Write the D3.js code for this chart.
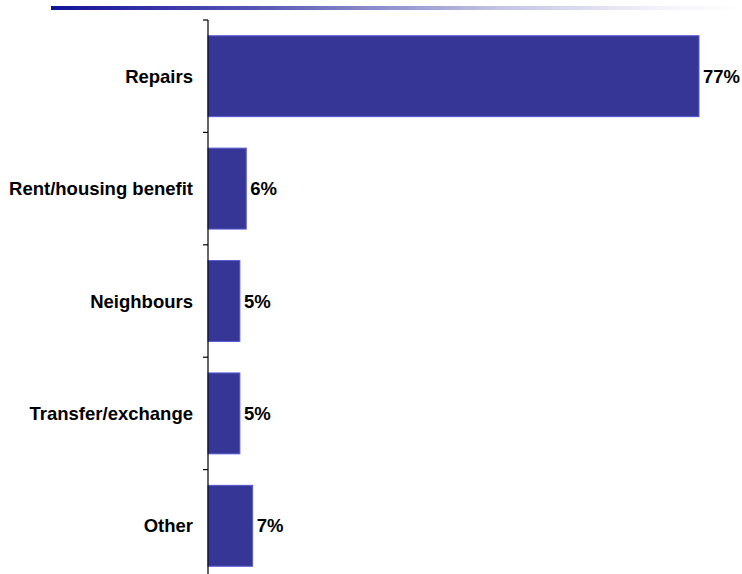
<!DOCTYPE html>
<html>
<head>
<meta charset="utf-8">
<script src="https://cdn.jsdelivr.net/npm/d3@7"></script>
<style>
  html, body { margin: 0; padding: 0; background: #fff; }
  svg { display: block; font-family: "Liberation Sans", Arial, sans-serif; }
</style>
</head>
<body>
<svg id="chart" width="742" height="574"></svg>
<script>
const categories = ["Repairs", "Rent/housing benefit", "Neighbours", "Transfer/exchange", "Other"];
const values = [77, 6, 5, 5, 7];
const valueLabels = ["77%", "6%", "5%", "5%", "7%"];

const svg = d3.select("#chart");
const W = 742, H = 574;

// Header rule fading out to the right
const ruleX = 51;
const defs = svg.append("defs");
const grad = defs.append("linearGradient").attr("id", "rule").attr("x1", "0").attr("x2", "1");
[[0, "#12129a"], [0.29, "#5454b4"], [0.65, "#c4c4e4"], [0.88, "#f2f2fa"], [1, "#ffffff"]]
  .forEach(([o, c]) => grad.append("stop").attr("offset", o).attr("stop-color", c));
svg.append("rect").attr("x", ruleX).attr("y", 6).attr("width", W - ruleX).attr("height", 4)
  .attr("fill", "url(#rule)");

const x0 = 208;
const x = d3.scaleLinear().domain([0, 77]).range([x0, 699]);
const y = d3.scaleBand().domain(categories).range([20, 582]).paddingInner(0.28).paddingOuter(0.14);

// Bars
svg.append("g").selectAll("rect").data(categories).join("rect")
  .attr("x", x(0))
  .attr("y", d => y(d))
  .attr("width", (d, i) => x(values[i]) - x(0))
  .attr("height", y.bandwidth())
  .attr("fill", "#363696")
  .attr("stroke", "#5a5ad8")
  .attr("stroke-width", 1);

// Category axis
const step = y.step();
const axis = svg.append("g");
axis.append("line").attr("x1", x0).attr("x2", x0).attr("y1", 20).attr("y2", H)
  .attr("stroke", "#000").attr("stroke-width", 1.2);
const tickYs = d3.range(categories.length + 1).map(i => 20 + i * step);
axis.selectAll("line.tick").data(tickYs).join("line").attr("class", "tick")
  .attr("x1", x0 - 5).attr("x2", x0).attr("y1", d => d).attr("y2", d => d)
  .attr("stroke", "#000").attr("stroke-width", 1.2);

axis.selectAll("text").data(categories).join("text")
  .attr("x", 193)
  .attr("y", d => y(d) + y.bandwidth() / 2)
  .attr("dy", "0.36em")
  .attr("text-anchor", "end")
  .attr("font-size", 18.5)
  .attr("font-weight", "bold")
  .attr("fill", "#000")
  .text(d => d);

// Value labels
svg.append("g").selectAll("text").data(categories).join("text")
  .attr("x", (d, i) => x(values[i]) + 4)
  .attr("y", d => y(d) + y.bandwidth() / 2)
  .attr("dy", "0.36em")
  .attr("font-size", 18.5)
  .attr("font-weight", "bold")
  .attr("fill", "#000")
  .text((d, i) => valueLabels[i]);
</script>
</body>
</html>
